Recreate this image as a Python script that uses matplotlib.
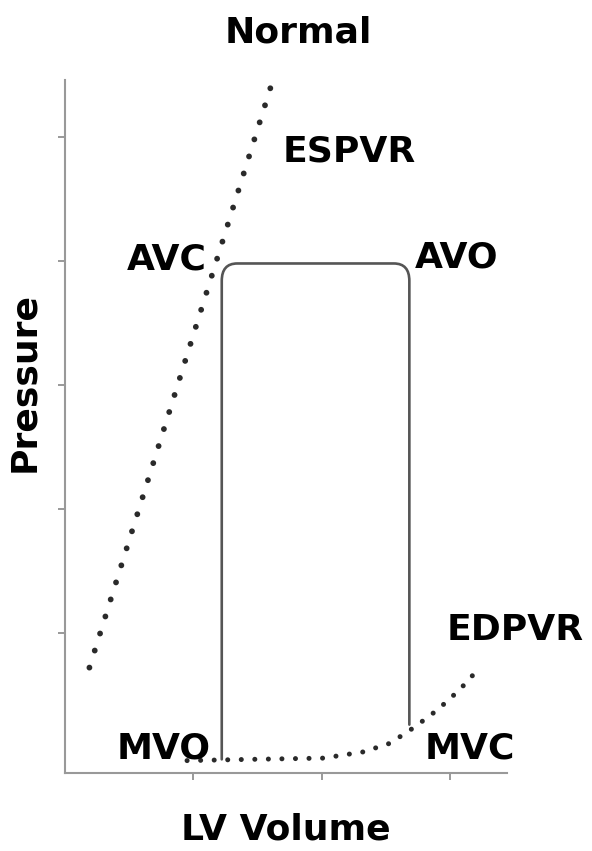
import matplotlib
matplotlib.use('Agg')
import matplotlib.pyplot as plt
from matplotlib.path import Path
from matplotlib.patches import PathPatch

# ---- data (arbitrary units) ----
espvr_v = [0.19, 1.60]
espvr_p = [0.72, 5.40]

edpvr_v = [0.95, 1.44, 2.01, 2.32, 2.53, 2.72, 2.90, 3.07, 3.21]
edpvr_p = [-0.03, -0.02, -0.01, 0.04, 0.11, 0.24, 0.38, 0.54, 0.70]

# pressure-volume loop: left (end-systolic) side, plateau, right (end-diastolic) side
loop_v_left, loop_v_right = 1.22, 2.68
loop_p_bottom_left, loop_p_top, loop_p_bottom_right = -0.02, 3.98, 0.26

labels = {
    'ESPVR': (1.69, 4.80, 'left'),
    'AVC': (1.105, 3.93, 'right'),
    'AVO': (2.72, 3.95, 'left'),
    'EDPVR': (2.97, 0.94, 'left'),
    'MVO': (0.405, -0.01, 'left'),
    'MVC': (2.80, -0.01, 'left'),
}

xticks = [1, 2, 3]
yticks = [1, 2, 3, 4, 5]

plt.rcParams['font.family'] = ['DejaVu Sans']
fs = 26

fig = plt.figure(figsize=(5.92, 8.51), dpi=100)
ax = fig.add_axes([65/592, 78/851, 442/592, 693/851])

ax.plot(espvr_v, espvr_p, color='#2a2a2a', linewidth=4.2,
        linestyle=(0, (0.01, 3.05)), dash_capstyle='round')
ax.plot(edpvr_v, edpvr_p, color='#2a2a2a', linewidth=3.6,
        linestyle=(0, (0.01, 2.7)), dash_capstyle='round')

r_x, r_y = 0.12, 0.14
verts = [(loop_v_left, loop_p_bottom_left),
         (loop_v_left, loop_p_top - r_y),
         (loop_v_left, loop_p_top),
         (loop_v_left + r_x, loop_p_top),
         (loop_v_right - r_x, loop_p_top),
         (loop_v_right, loop_p_top),
         (loop_v_right, loop_p_top - r_y),
         (loop_v_right, loop_p_bottom_right)]
codes = [Path.MOVETO, Path.LINETO, Path.CURVE3, Path.CURVE3,
         Path.LINETO, Path.CURVE3, Path.CURVE3, Path.LINETO]
ax.add_patch(PathPatch(Path(verts, codes), fill=False, edgecolor='#555555',
                       linewidth=1.9, capstyle='round', joinstyle='round'))

for name, (x, y, ha) in labels.items():
    ax.text(x, y, name, fontsize=fs, fontweight='bold', ha=ha, va='baseline',
            color='#000000')

ax.set_xlim(0, 3.44)
ax.set_ylim(-0.13, 5.46)
ax.set_xticks(xticks)
ax.set_yticks(yticks)
ax.set_xticklabels([])
ax.set_yticklabels([])
ax.tick_params(axis='both', colors='#888888', length=5, width=1.2)
for side in ['top', 'right']:
    ax.spines[side].set_visible(False)
for side in ['left', 'bottom']:
    ax.spines[side].set_color('#999999')
    ax.spines[side].set_linewidth(1.5)

ax.set_title('Normal', fontsize=fs, fontweight='bold', pad=27, x=0.527,
             color='#000000')
ax.set_xlabel('LV Volume', fontsize=fs, fontweight='bold', labelpad=20,
              color='#000000')
ax.set_ylabel('Pressure', fontsize=fs, fontweight='bold', labelpad=7,
              color='#000000')
ax.yaxis.set_label_coords(-0.055, 0.564)

plt.savefig('out.png', dpi=100)
